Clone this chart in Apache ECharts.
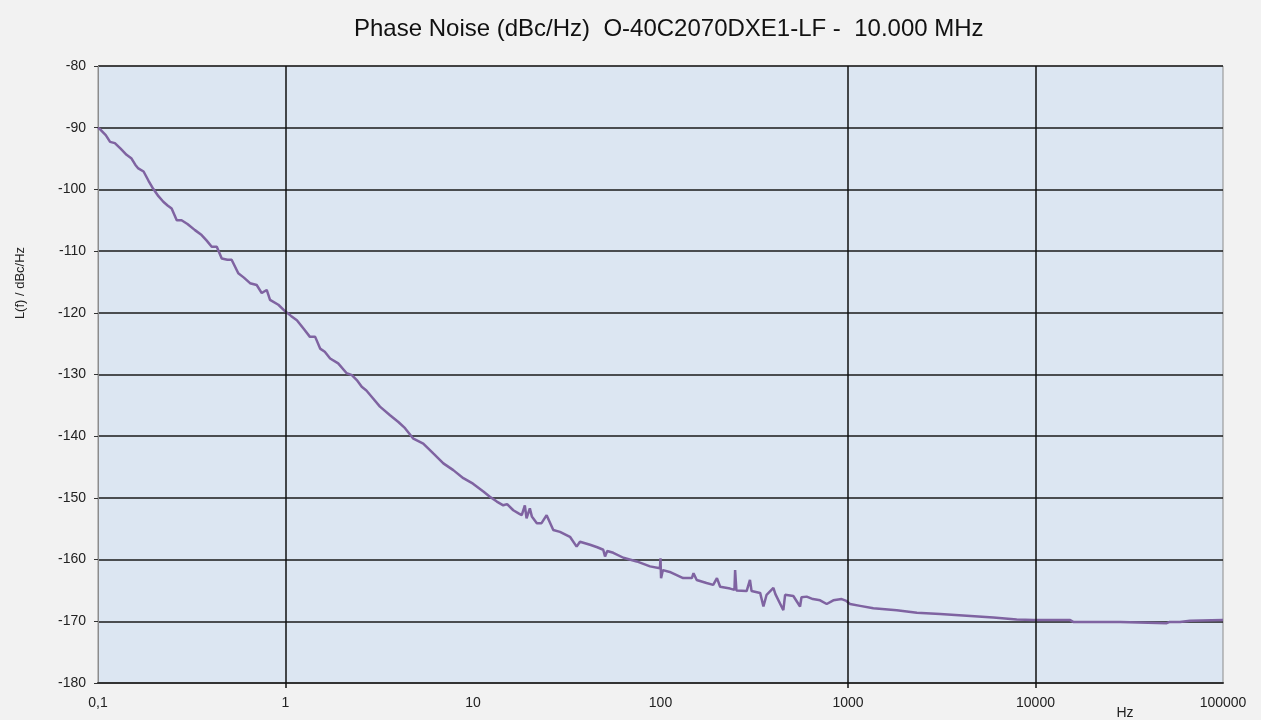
<!DOCTYPE html>
<html>
<head>
<meta charset="utf-8">
<title>Phase Noise</title>
<script src="https://cdn.jsdelivr.net/npm/echarts@6/dist/echarts.min.js"></script>
<style>
  html, body { margin: 0; padding: 0; background: #f2f2f2; }
  #main { width: 1261px; height: 720px; }
</style>
</head>
<body>
<div id="main"></div>
<script>
// offset frequency (Hz) and single sideband phase noise (dBc/Hz)
var freqHz = [
  0.1, 0.103, 0.11, 0.116, 0.123, 0.132, 0.142, 0.151, 0.158, 0.164,
  0.175, 0.186, 0.197, 0.21, 0.223, 0.235, 0.247, 0.263, 0.279, 0.30,
  0.329, 0.357, 0.38, 0.404, 0.43, 0.457, 0.49, 0.516, 0.56, 0.60,
  0.647, 0.702, 0.747, 0.794, 0.827, 0.916, 1.0, 1.07, 1.15, 1.25,
  1.35, 1.44, 1.53, 1.62, 1.73, 1.91, 2.12, 2.26, 2.40, 2.55,
  2.7, 2.88, 3.19, 3.61, 4.00, 4.34, 4.81, 5.43, 6.14, 6.95,
  7.85, 8.88, 10.0, 11.4, 12.3, 13.4, 14.5, 15.2, 16.4, 17.5,
  18.2, 18.9, 19.3, 20.1, 20.6, 21.9, 23.2, 24.7, 26.8, 29.1,
  32.9, 35.7, 37.2, 42.1, 46, 49.5, 50.6, 52, 56.0, 63.4,
  74.7, 87.9, 99.3, 100, 100.7, 103, 112, 132, 147, 150,
  156, 176, 191, 200, 208, 235, 248, 250, 254, 260,
  288, 300, 306, 340, 354, 368, 400, 410, 452, 462,
  511, 555, 565, 602, 650, 710, 770, 835, 925, 980,
  1025, 1160, 1365, 1820, 2330, 3100, 4300, 5960, 7940, 9750,
  15300, 15900, 28300, 50100, 52000, 59000, 66700, 100000
];
var noiseDbc = [
  -90.0, -90.3, -91.2, -92.3, -92.5, -93.4, -94.4, -95.0, -96.0, -96.6,
  -97.1, -98.6, -99.9, -101.1, -102.0, -102.6, -103.1, -105.0, -105.0, -105.6,
  -106.6, -107.4, -108.3, -109.3, -109.3, -111.2, -111.4, -111.4, -113.6, -114.3,
  -115.2, -115.5, -116.8, -116.3, -117.9, -118.7, -119.8, -120.5, -121.2, -122.6,
  -123.9, -123.9, -125.8, -126.3, -127.4, -128.2, -129.8, -130.1, -130.9, -132.0,
  -132.6, -133.6, -135.2, -136.6, -137.7, -138.7, -140.4, -141.2, -142.8, -144.4,
  -145.5, -146.8, -147.7, -149.0, -149.8, -150.6, -151.2, -151.0, -152.0, -152.5,
  -152.8, -151.2, -153.3, -151.7, -153.0, -154.1, -154.1, -152.8, -155.2, -155.5,
  -156.3, -157.9, -157.1, -157.6, -158.0, -158.4, -159.5, -158.6, -158.9, -159.7,
  -160.3, -161.1, -161.4, -159.8, -163.0, -161.7, -162.0, -163.0, -163.0, -162.2,
  -163.3, -163.8, -164.1, -163.0, -164.4, -164.7, -164.9, -161.7, -165.0, -165.1,
  -165.1, -163.3, -165.1, -165.4, -167.6, -165.7, -164.6, -165.6, -168.2, -165.7,
  -165.9, -167.6, -166.1, -166.0, -166.4, -166.6, -167.2, -166.6, -166.4, -166.7,
  -167.2, -167.5, -167.9, -168.2, -168.6, -168.8, -169.1, -169.4, -169.7, -169.8,
  -169.8, -170.1, -170.1, -170.3, -170.1, -170.1, -169.9, -169.8
];
// decades that carry a vertical grid line in the original
var gridDecades = [1, 1000, 10000];

var titleText = 'Phase Noise (dBc/Hz)  O-40C2070DXE1-LF -  10.000 MHz';

var points = freqHz.map(function (f, i) { return [f, noiseDbc[i]]; });

var myChart = echarts.init(document.getElementById('main'));
var option = {
  backgroundColor: '#f2f2f2',
  animation: false,
  title: {
    text: titleText,
    left: 349,
    top: 12,
    textStyle: { fontFamily: 'Liberation Sans', fontSize: 24, fontWeight: 'normal', color: '#111' }
  },
  grid: {
    left: 98, right: 38, top: 66, bottom: 37,
    show: true,
    backgroundColor: '#dce6f2',
    borderColor: '#8c8c8c',
    borderWidth: 1
  },
  xAxis: {
    type: 'log',
    logBase: 10,
    min: 0.1,
    max: 100000,
    axisLine: { show: true, onZero: false, lineStyle: { color: '#333', width: 2 } },
    axisTick: { show: true, length: 5, inside: false, customValues: gridDecades, lineStyle: { color: '#111', width: 1.5 } },
    splitLine: { show: false },
    axisLabel: {
      showMinLabel: true,
      showMaxLabel: true,
      margin: 13,
      fontFamily: 'Liberation Sans',
      fontSize: 14,
      color: '#222',
      formatter: function (v) { return String(Number(v.toPrecision(6))).replace('.', ','); }
    }
  },
  yAxis: {
    type: 'value',
    min: -180,
    max: -80,
    interval: 10,
    axisLine: { show: true, lineStyle: { color: '#8c8c8c', width: 1 } },
    axisTick: { show: true, length: 4, lineStyle: { color: '#333' } },
    splitLine: { show: true, lineStyle: { color: '#1a1a1a', width: 1.5 } },
    axisLabel: { margin: 12, fontFamily: 'Liberation Sans', fontSize: 14, color: '#222' }
  },
  graphic: [
    {
      type: 'text',
      x: 20, y: 283,
      rotation: Math.PI / 2,
      style: { text: 'L(f) / dBc/Hz', fontFamily: 'Liberation Sans', fontSize: 13, fill: '#222', align: 'center', verticalAlign: 'middle' }
    },
    {
      type: 'text',
      x: 1125, y: 713,
      style: { text: 'Hz', fontFamily: 'Liberation Sans', fontSize: 14, fill: '#222', align: 'center', verticalAlign: 'middle' }
    }
  ],
  series: [
    {
      type: 'line',
      data: points,
      showSymbol: false,
      symbol: 'none',
      lineStyle: { color: '#7f63a1', width: 2.5 },
      z: 3,
      markLine: {
        silent: true,
        symbol: 'none',
        label: { show: false },
        lineStyle: { color: '#111', width: 1.5, type: 'solid' },
        data: gridDecades.map(function (d) { return { xAxis: d }; })
      }
    }
  ]
};
myChart.setOption(option);
</script>
</body>
</html>
